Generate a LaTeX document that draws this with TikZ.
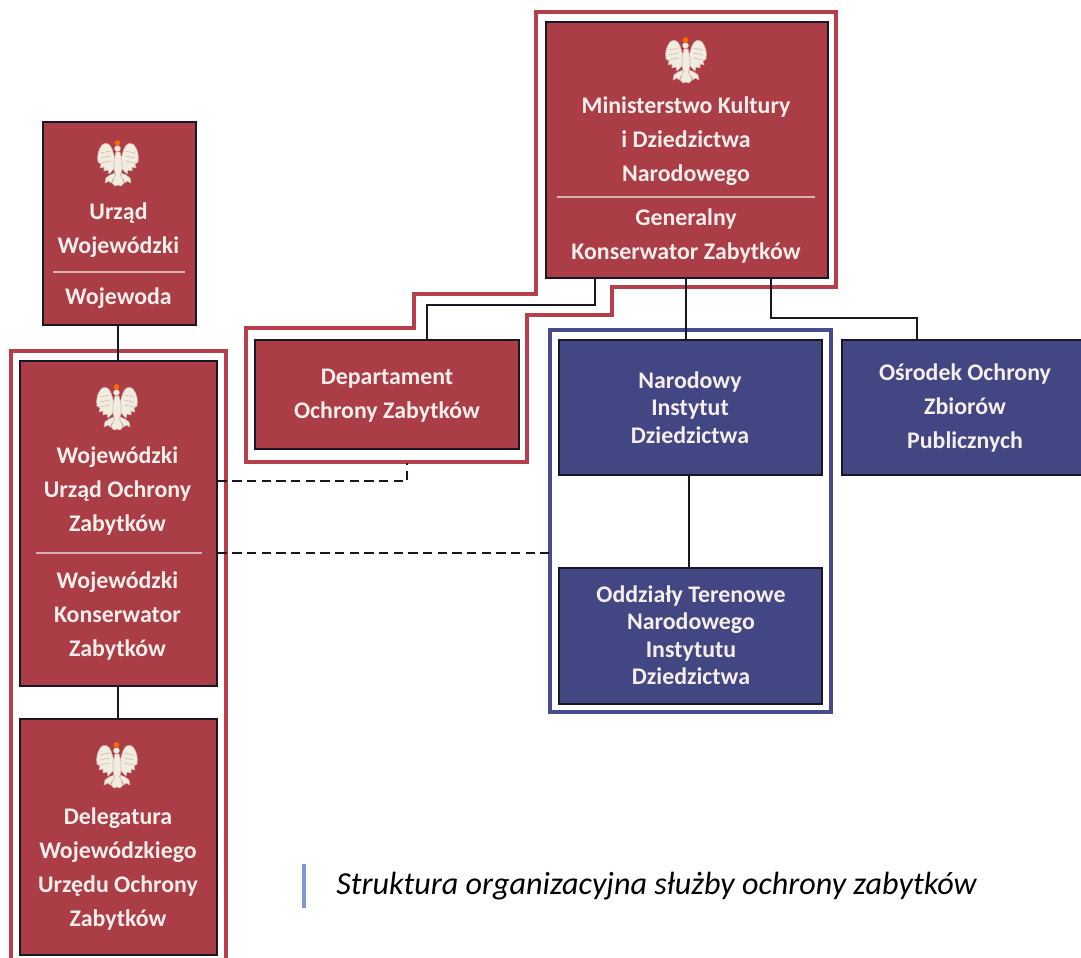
\documentclass[tikz,border=0pt]{standalone}
\usepackage{fontspec}
\setmainfont{Carlito}
\definecolor{boxred}{RGB}{170,61,69}
\definecolor{boxblue}{RGB}{66,71,132}
\definecolor{outred}{RGB}{181,64,76}
\definecolor{outblue}{RGB}{70,76,142}
\definecolor{edge}{RGB}{24,24,36}
\definecolor{ink}{RGB}{246,238,234}
\definecolor{rule}{RGB}{214,180,180}
\definecolor{barblue}{RGB}{122,155,204}
\definecolor{eaglewhite}{RGB}{240,236,224}
\tikzset{
  x=0.75pt,y=-0.75pt,
  boxbase/.style={draw=edge,line width=1.5pt,inner sep=0pt,anchor=north west},
  redbox/.style={boxbase,fill=boxred},
  bluebox/.style={boxbase,fill=boxblue},
  label/.style={text=ink,align=center,inner sep=0pt,font=\fontsize{17.9}{25.5}\selectfont\bfseries},
  tightlabel/.style={label,font=\fontsize{17.9}{20.6}\selectfont\bfseries},
  conn/.style={draw=edge,line width=1.5pt},
  dashconn/.style={draw=edge,line width=1.5pt,dash pattern=on 7pt off 4pt},
  outlinered/.style={draw=outred,line width=3pt},
  outlineblue/.style={draw=outblue,line width=3pt},
  divider/.style={draw=rule,line width=1pt},
  eagle/.pic={
    \begin{scope}[fill=eaglewhite,draw=eaglewhite!70!boxred,line width=.4pt,line join=round]
      \foreach \s in {1,-1}{
        \begin{scope}[xscale=\s]
          \path[fill,draw] (3.5,-6) -- (6,-14) .. controls (8,-20) and (13,-21) .. (16,-18)
            .. controls (20,-13) and (21,-7) .. (20,-1)
            -- (17,1) -- (18,5) -- (14,4) -- (14,8) -- (10,7) -- (9,11) -- (6,8) -- (3.5,5) -- cycle;
          \path[fill,draw] (3,10) -- (8,12) -- (12,15) -- (13,20) -- (9,18) -- (7,20) -- (5,16) -- (3,15) -- cycle;
        \end{scope}
      }
      \path[fill,draw] (-2,-11) -- (2,-11) -- (4,-2) -- (4,6) -- (2.5,12) -- (6,20) -- (3,23) -- (0,22) -- (-3,23) -- (-6,20) -- (-2.5,12) -- (-4,6) -- (-4,-2) -- cycle;
      \path[fill,draw] (-0.5,-14.5) circle[radius=3];
    \end{scope}
    \fill[orange!80!red] (-0.5,-20) circle[radius=2.8];
    \foreach \yy in {-12,-7,-2}{
      \draw[boxred!30!eaglewhite,line width=.5pt] (7.5,\yy) -- (17,\yy+2) (-7.5,\yy) -- (-17,\yy+2);
    }
  }
}
\begin{document}
\begin{tikzpicture}
\clip (0,0) rectangle (1081,957);
\fill[white] (0,0) rectangle (1081,957);

% outlines
\draw[outlinered] (536,12) -- (836,12) -- (836,287) -- (612,287) -- (612,315) -- (527,315) -- (527,462) -- (246,462) -- (246,328) -- (414,328) -- (414,294) -- (536,294) -- cycle;
\draw[outlinered] (11,965) -- (11,351) -- (226,351) -- (226,965);
\draw[outlineblue] (550,330) rectangle (831,712);

% boxes
\node[redbox,minimum width=211.5pt,minimum height=192pt] (mini) at (544.5,20.5) {};
\node[redbox,minimum width=114.75pt,minimum height=152.25pt] (urzad) at (41.5,120.5) {};
\node[redbox,minimum width=147.75pt,minimum height=243.75pt] (wuoz) at (18.5,359.5) {};
\node[redbox,minimum width=147.75pt,minimum height=177pt] (deleg) at (18.5,717.5) {};
\node[redbox,minimum width=198pt,minimum height=81.75pt] (dept) at (253.5,338.5) {};
\node[bluebox,minimum width=197.25pt,minimum height=101.25pt] (nid) at (557.5,338.5) {};
\node[bluebox,minimum width=186pt,minimum height=101.25pt] (osrodek) at (840.5,338.5) {};
\node[bluebox,minimum width=197.25pt,minimum height=102pt] (oddz) at (557.5,566.5) {};

% connectors
\draw[conn] (595,0 |- mini.south) -- (595,305) -- (427,305) -- (427,0 |- dept.north);
\draw[conn] (686,0 |- mini.south) -- (686,0 |- nid.north);
\draw[conn] (771,0 |- mini.south) -- (771,318) -- (917,318) -- (917,0 |- osrodek.north);
\draw[conn] (689,0 |- nid.south) -- (689,0 |- oddz.north);
\draw[conn] (118,0 |- urzad.south) -- (118,0 |- wuoz.north);
\draw[conn] (118,0 |- wuoz.south) -- (118,0 |- deleg.north);
\coordinate (deptout) at (407,463);
\coordinate (nidout) at (549,553);
\draw[dashconn] (wuoz.east |- 0,481) -- (407,481) -- (deptout);
\draw[dashconn] (wuoz.east |- 0,553) -- (nidout);

% dividers
\draw[divider] (557,197) -- (815,197);
\draw[divider] (53,272) -- (185,272);
\draw[divider] (36,553) -- (202,553);

% eagles
\pic at (686,60) {eagle};
\pic at (118,163) {eagle};
\pic at (117,407) {eagle};
\pic at (117,765) {eagle};

% labels
\node[label] (t1) at (686,141) {Ministerstwo Kultury\\i Dziedzictwa\\Narodowego};
\node[label] (t2) at (686,236) {Generalny\\Konserwator Zabytków};
\node[label] (t3) at (118.5,230) {Urząd\\Wojewódzki};
\node[label] (t4) at (118.5,298) {Wojewoda};
\node[label] (t5) at (117.5,491) {Wojewódzki\\Urząd Ochrony\\Zabytków};
\node[label] (t6) at (117.5,616) {Wojewódzki\\Konserwator\\Zabytków};
\node[label] (t7) at (118,869) {Delegatura\\Wojewódzkiego\\Urzędu Ochrony\\Zabytków};
\node[label] (t8) at (387,396) {Departament\\Ochrony Zabytków};
\node[tightlabel] (t9) at (690,407.5) {Narodowy\\Instytut\\Dziedzictwa};
\node[label] (t10) at (965,408) {Ośrodek Ochrony\\Zbiorów\\Publicznych};
\node[tightlabel] (t11) at (691,635) {Oddziały Terenowe\\Narodowego\\Instytutu\\Dziedzictwa};

% caption
\fill[barblue] (302,864) rectangle (306,908);
\node[anchor=west,inner sep=0pt,font=\fontsize{24.1}{28}\selectfont\itshape,text=black] (cap) at (336,886) {Struktura organizacyjna służby ochrony zabytków};
\end{tikzpicture}
\end{document}
